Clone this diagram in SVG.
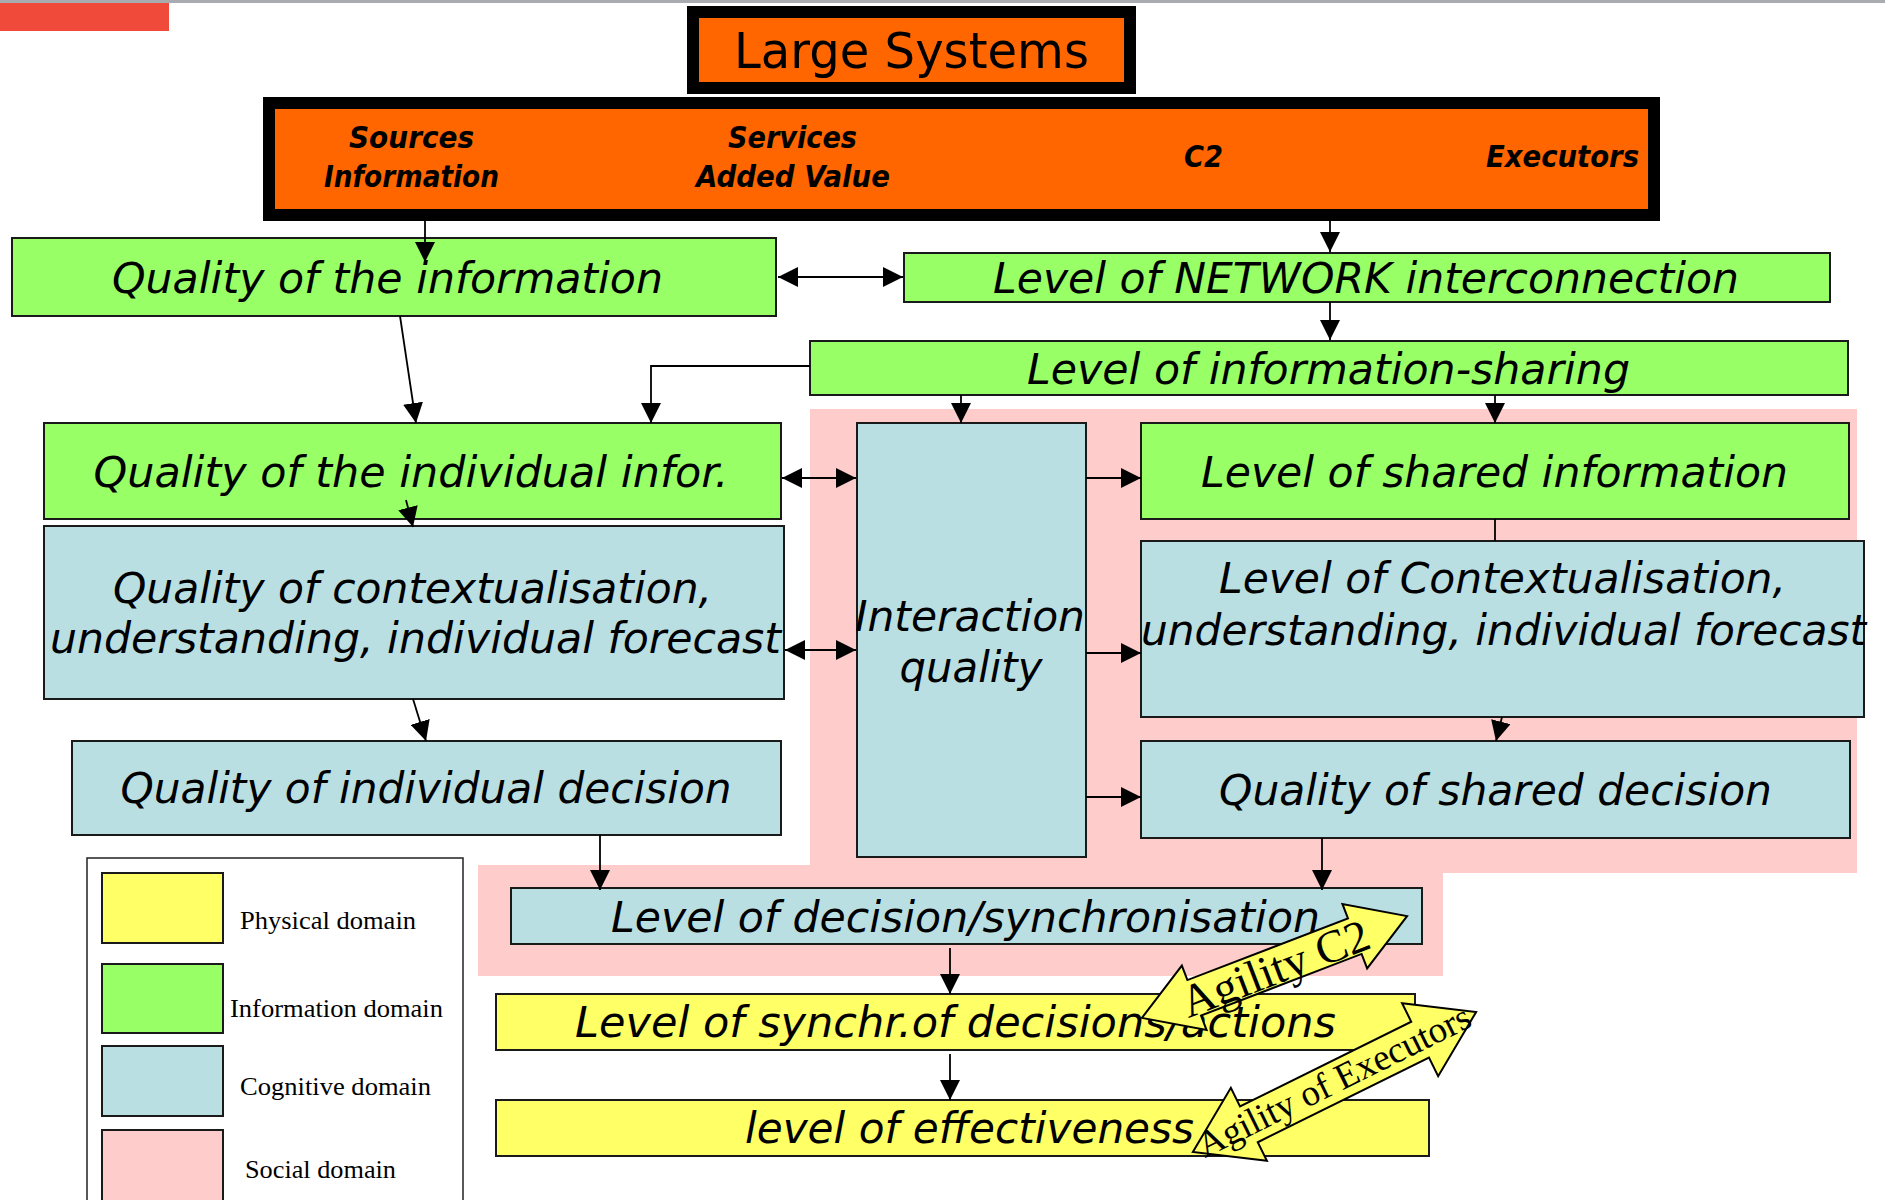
<svg xmlns="http://www.w3.org/2000/svg" width="1885" height="1200" viewBox="0 0 1885 1200">
<defs>
<style>
.box{stroke:#1a1a1a;stroke-width:2}
.thick{fill:#FF6600;stroke:#000;stroke-width:12}
.g{fill:#99FF66}
.b{fill:#B9DFE2}
.y{fill:#FFFF66}
.p{fill:#FFCCCC}
.t{font-family:"DejaVu Sans",sans-serif;font-style:italic;font-size:42px;text-anchor:middle;fill:#000}
.o{font-family:"DejaVu Sans",sans-serif;font-style:italic;font-weight:bold;font-size:30px;text-anchor:middle;fill:#000}
.big{font-family:"DejaVu Sans",sans-serif;font-size:49px;text-anchor:middle;fill:#000}
.leg{font-family:"Liberation Serif",serif;font-size:26px;fill:#000}
.ag{font-family:"Liberation Serif",serif;text-anchor:middle;fill:#000}
.c{stroke:#000;stroke-width:1.8;fill:none}
.arr{marker-end:url(#ah)}
.dbl{marker-end:url(#ah);marker-start:url(#ahs)}
.agil{fill:#FFFF66;stroke:#000;stroke-width:2;stroke-linejoin:miter}
</style>
<marker id="ah" viewBox="0 0 20 20" refX="20" refY="10" markerUnits="userSpaceOnUse" markerWidth="20" markerHeight="20" orient="auto"><path d="M0,0 L20,10 L0,20 Z" fill="#000"/></marker>
<marker id="ahs" viewBox="0 0 20 20" refX="20" refY="10" markerUnits="userSpaceOnUse" markerWidth="20" markerHeight="20" orient="auto-start-reverse"><path d="M0,0 L20,10 L0,20 Z" fill="#000"/></marker>
</defs>
<rect x="0" y="0" width="1885" height="1200" fill="#fff"/>
<rect x="0" y="0" width="1885" height="3" fill="#A8ACB0"/>
<rect x="0" y="3" width="169" height="28" fill="#EF4A3A"/>

<g id="social-domain">
<path class="p" d="M810,409 H1857 V873 H1443 V976 H478 V865 H810 Z"/>
</g>

<g id="large-systems">
<rect class="thick" x="693" y="12" width="437" height="76"/>
<text class="big" x="911.5" y="68" textLength="355" lengthAdjust="spacingAndGlyphs">Large Systems</text>
</g>

<g id="components">
<rect class="thick" x="269" y="103" width="1385" height="112"/>
<text class="o" x="411.5" y="148" textLength="125" lengthAdjust="spacingAndGlyphs">Sources</text>
<text class="o" x="411.5" y="187" textLength="175" lengthAdjust="spacingAndGlyphs">Information</text>
<text class="o" x="792.5" y="148" textLength="129" lengthAdjust="spacingAndGlyphs">Services</text>
<text class="o" x="793" y="187" textLength="194" lengthAdjust="spacingAndGlyphs">Added Value</text>
<text class="o" x="1203.5" y="167" textLength="39" lengthAdjust="spacingAndGlyphs">C2</text>
<text class="o" x="1562.5" y="167" textLength="153" lengthAdjust="spacingAndGlyphs">Executors</text>
</g>

<g id="quality-information">
<rect class="box g" x="12" y="238" width="764" height="78"/>
<text class="t" x="387.5" y="293" textLength="551" lengthAdjust="spacingAndGlyphs">Quality of the information</text>
</g>

<g id="network-interconnection">
<rect class="box g" x="904" y="253" width="926" height="49"/>
<text class="t" x="1366" y="293" textLength="746" lengthAdjust="spacingAndGlyphs">Level of NETWORK interconnection</text>
</g>

<g id="information-sharing">
<rect class="box g" x="810" y="341" width="1038" height="54"/>
<text class="t" x="1328.5" y="384" textLength="603" lengthAdjust="spacingAndGlyphs">Level of information-sharing</text>
</g>

<g id="individual-information">
<rect class="box g" x="44" y="423" width="737" height="96"/>
<text class="t" x="411" y="487" textLength="635" lengthAdjust="spacingAndGlyphs">Quality of the individual infor.</text>
</g>

<g id="individual-contextualisation">
<rect class="box b" x="44" y="526" width="740" height="173"/>
<text class="t" x="412.5" y="603" textLength="599" lengthAdjust="spacingAndGlyphs">Quality of contextualisation,</text>
<text class="t" x="415.5" y="653" textLength="731" lengthAdjust="spacingAndGlyphs">understanding, individual forecast</text>
</g>

<g id="individual-decision">
<rect class="box b" x="72" y="741" width="709" height="94"/>
<text class="t" x="426" y="803" textLength="611" lengthAdjust="spacingAndGlyphs">Quality of individual decision</text>
</g>

<g id="interaction-quality">
<rect class="box b" x="857" y="423" width="229" height="434"/>
<text class="t" x="970" y="631" textLength="230" lengthAdjust="spacingAndGlyphs">Interaction</text>
<text class="t" x="971" y="682" textLength="143" lengthAdjust="spacingAndGlyphs">quality</text>
</g>

<g id="shared-information">
<rect class="box g" x="1141" y="423" width="708" height="96"/>
<text class="t" x="1494.5" y="487" textLength="587" lengthAdjust="spacingAndGlyphs">Level of shared information</text>
</g>

<g id="shared-contextualisation">
<rect class="box b" x="1141" y="541" width="723" height="176"/>
<text class="t" x="1502.5" y="593" textLength="567" lengthAdjust="spacingAndGlyphs">Level of Contextualisation,</text>
<text class="t" x="1503.5" y="645" textLength="725" lengthAdjust="spacingAndGlyphs">understanding, individual forecast</text>
</g>

<g id="shared-decision">
<rect class="box b" x="1141" y="741" width="709" height="97"/>
<text class="t" x="1495.5" y="805" textLength="553" lengthAdjust="spacingAndGlyphs">Quality of shared decision</text>
</g>

<g id="decision-synchronisation">
<rect class="box b" x="511" y="888" width="911" height="56"/>
<text class="t" x="965.5" y="932" textLength="709" lengthAdjust="spacingAndGlyphs">Level of decision/synchronisation</text>
</g>

<g id="synchr-actions">
<rect class="box y" x="496" y="994" width="919" height="56"/>
<text class="t" x="955.5" y="1037" textLength="761" lengthAdjust="spacingAndGlyphs">Level of synchr.of decisions/actions</text>
</g>

<g id="effectiveness">
<rect class="box y" x="496" y="1100" width="933" height="56"/>
<text class="t" x="969.5" y="1143" textLength="449" lengthAdjust="spacingAndGlyphs">level of effectiveness</text>
</g>

<g id="legend">
<rect x="87" y="858" width="376" height="360" fill="#fff" stroke="#222" stroke-width="1.5"/>
<rect class="box y" x="102" y="873" width="121" height="70"/>
<rect class="box g" x="102" y="964" width="121" height="69"/>
<rect class="box b" x="102" y="1046" width="121" height="70"/>
<rect class="box p" x="102" y="1130" width="121" height="80"/>
<text class="leg" x="240" y="929" textLength="176" lengthAdjust="spacingAndGlyphs">Physical domain</text>
<text class="leg" x="230" y="1017" textLength="213" lengthAdjust="spacingAndGlyphs">Information domain</text>
<text class="leg" x="240" y="1095" textLength="191" lengthAdjust="spacingAndGlyphs">Cognitive domain</text>
<text class="leg" x="245" y="1178" textLength="151" lengthAdjust="spacingAndGlyphs">Social domain</text>
</g>

<g id="connectors">
<line class="c arr" x1="425" y1="221" x2="425" y2="262"/>
<line class="c dbl" x1="778" y1="277" x2="903" y2="277"/>
<line class="c arr" x1="1330" y1="221" x2="1330" y2="252"/>
<line class="c arr" x1="1330" y1="302" x2="1330" y2="340"/>
<line class="c arr" x1="400" y1="316" x2="416" y2="423"/>
<polyline class="c arr" points="810,366 651,366 651,423"/>
<line class="c arr" x1="961" y1="395" x2="961" y2="423"/>
<line class="c arr" x1="1495" y1="395" x2="1495" y2="423"/>
<line class="c dbl" x1="782" y1="478" x2="856" y2="478"/>
<line class="c dbl" x1="785" y1="650" x2="856" y2="650"/>
<line class="c arr" x1="1086" y1="478" x2="1141" y2="478"/>
<line class="c arr" x1="1086" y1="653" x2="1141" y2="653"/>
<line class="c arr" x1="1086" y1="797" x2="1141" y2="797"/>
<line class="c" x1="1495" y1="519" x2="1495" y2="541"/>
<line class="c arr" x1="1502" y1="717" x2="1496" y2="741"/>
<line class="c arr" x1="406" y1="500" x2="413" y2="527"/>
<line class="c arr" x1="413" y1="699" x2="426" y2="741"/>
<line class="c arr" x1="600" y1="835" x2="600" y2="890"/>
<line class="c arr" x1="1322" y1="838" x2="1322" y2="890"/>
<line class="c arr" x1="950" y1="948" x2="950" y2="994"/>
<line class="c arr" x1="950" y1="1054" x2="950" y2="1100"/>
</g>

<g id="agility-c2" transform="translate(1274.5,967) rotate(-21)">
<path class="agil" d="M-142,0 L-86,-34.5 L-86,-19 L86,-19 L86,-34.5 L142,0 L86,34.5 L86,19 L-86,19 L-86,34.5 Z"/>
<text class="ag" x="0" y="17" font-size="46" textLength="198" lengthAdjust="spacingAndGlyphs">Agility C2</text>
</g>

<g id="agility-executors" transform="translate(1334.5,1082) rotate(-26.3)">
<path class="agil" d="M-158,0 L-95.5,-40.7 L-95.5,-20 L95.5,-20 L95.5,-40.7 L158,0 L95.5,40.7 L95.5,20 L-95.5,20 L-95.5,40.7 Z"/>
<text class="ag" x="0" y="11" font-size="37" textLength="300" lengthAdjust="spacingAndGlyphs">Agility of Executors</text>
</g>
</svg>
